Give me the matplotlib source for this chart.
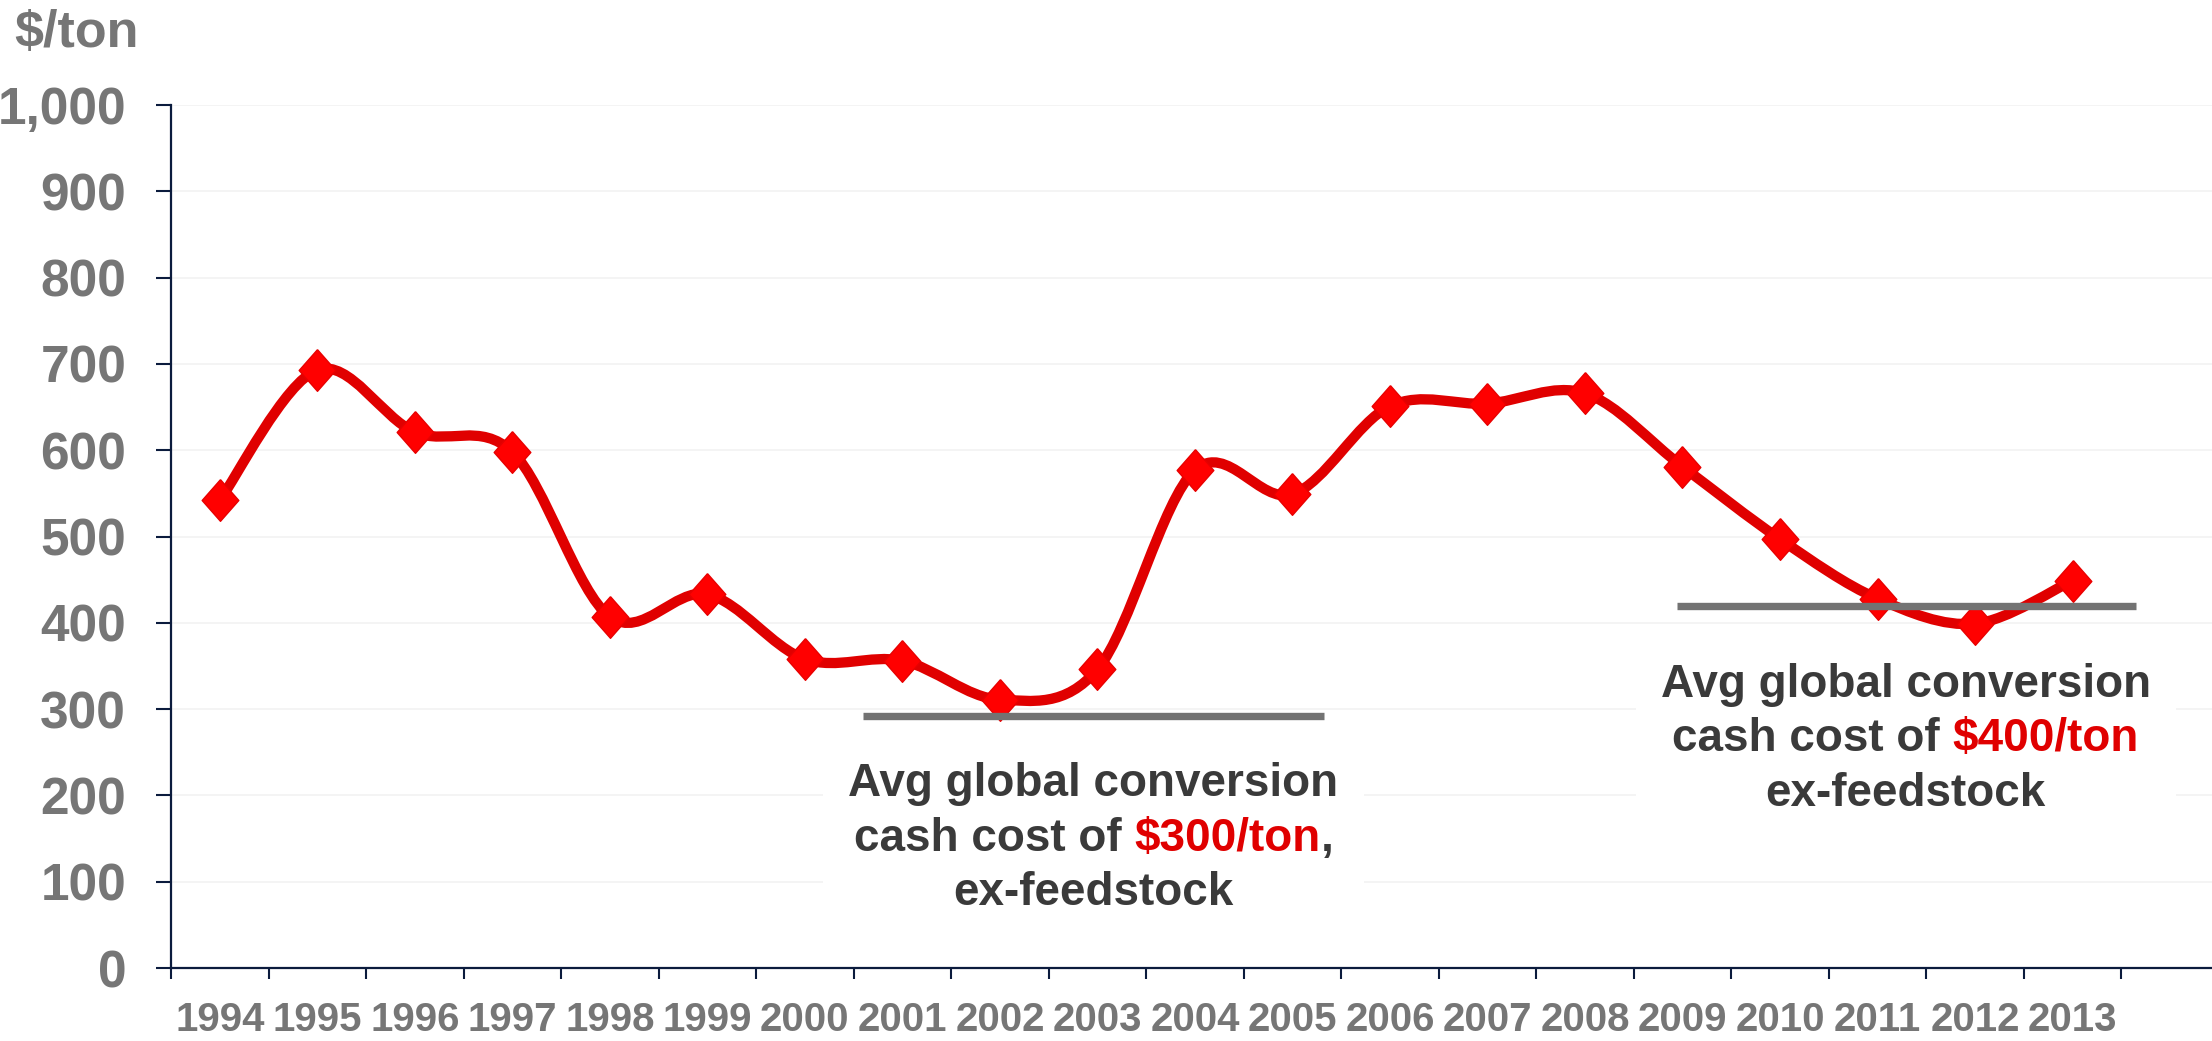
import numpy as np
import matplotlib
matplotlib.use("Agg")
import matplotlib.pyplot as plt
from matplotlib.path import Path
from matplotlib.patches import PathPatch
from matplotlib.ticker import FuncFormatter, FixedLocator
from matplotlib.offsetbox import TextArea, HPacker, VPacker, AnnotationBbox

# Data
years = ["1994", "1995", "1996", "1997", "1998", "1999", "2000", "2001", "2002", "2003",
         "2004", "2005", "2006", "2007", "2008", "2009", "2010", "2011", "2012", "2013"]
cost = [542, 693, 621, 598, 407, 433, 358, 356, 311, 346,
        577, 549, 651, 654, 666, 581, 497, 428, 399, 449]

# Average conversion cost reference lines: (x start, x end, level) in category units
avg_lines = [(6.6, 11.32, 292), (14.94, 19.65, 420)]
notes = [
    (8.96, 150, ["Avg global conversion", ("cash cost of", "$300/ton", ","), "ex-feedstock"]),
    (17.29, 265, ["Avg global conversion", ("cash cost of", "$400/ton", ""), "ex-feedstock"]),
]

RED_LINE = "#e00000"
RED_MARK = "#ff0000"
GREY_TXT = "#767676"
DARK_TXT = "#3a3a3a"
NAVY = "#0b1b3d"

plt.rcParams["font.family"] = ["Liberation Sans", "DejaVu Sans"]
plt.rcParams["font.weight"] = "bold"

fig = plt.figure(figsize=(22.12, 10.41), dpi=100)
ax = fig.add_axes([171 / 2212, 73 / 1041, 2041 / 2212, 863 / 1041])

x = np.arange(len(years))
y = np.array(cost, dtype=float)

# smoothed line (Catmull-Rom style bezier, like a spreadsheet smoothed line)
pts = np.column_stack([x, y])
ext = np.vstack([pts[0], pts, pts[-1]])
verts = [tuple(pts[0])]
codes = [Path.MOVETO]
for i in range(len(pts) - 1):
    p0, p1, p2, p3 = ext[i], ext[i + 1], ext[i + 2], ext[i + 3]
    c1 = p1 + (p2 - p0) / 6.0
    c2 = p2 - (p3 - p1) / 6.0
    verts += [tuple(c1), tuple(c2), tuple(p2)]
    codes += [Path.CURVE4] * 3
ax.add_patch(PathPatch(Path(verts, codes), facecolor="none", edgecolor=RED_LINE,
                       lw=7.4, capstyle="round", joinstyle="round", zorder=3))

diamond = [(0, 1), (0.88, 0), (0, -1), (-0.88, 0), (0, 1)]
ax.plot(x, y, linestyle="none", marker=diamond, markersize=30,
        markerfacecolor=RED_MARK, markeredgecolor="#e80000", markeredgewidth=1, zorder=4)

for x0, x1, lvl in avg_lines:
    ax.plot([x0, x1], [lvl, lvl], color="#737373", lw=5.3, solid_capstyle="butt", zorder=5)

# text notes with white background
for cx, cy, lines in notes:
    fp = dict(color=DARK_TXT, fontsize=33, fontweight="bold")
    rp = dict(color=RED_LINE, fontsize=33, fontweight="bold")
    first, mid, last = lines
    tail = HPacker(children=[TextArea(mid[1], textprops=rp)] +
                   ([TextArea(mid[2], textprops=fp)] if mid[2] else []),
                   sep=0, pad=0, align="baseline")
    row2 = HPacker(children=[TextArea(mid[0], textprops=fp), tail], sep=9.2, pad=0, align="baseline")
    box = VPacker(children=[TextArea(first, textprops=fp), row2, TextArea(last, textprops=fp)],
                  sep=7.5, pad=0, align="center")
    ab = AnnotationBbox(box, (cx, cy), xycoords="data", frameon=True, pad=0.55, fontsize=33,
                        box_alignment=(0.5, 0.5),
                        bboxprops=dict(facecolor="white", edgecolor="none"), zorder=2)
    ax.add_artist(ab)

ax.set_ylim(0, 1000)
ax.set_xlim(-0.5, 20.43)
ax.set_yticks(np.arange(0, 1001, 100))
ax.yaxis.set_major_formatter(FuncFormatter(lambda v, p: f"{int(v):,}"))
ax.grid(axis="y", color="#f2f2f2", lw=1.2, zorder=0)
ax.set_axisbelow(True)

ax.xaxis.set_major_locator(FixedLocator(np.arange(-0.5, len(years), 1.0)))
ax.xaxis.set_minor_locator(FixedLocator(x))
ax.set_xticklabels([], minor=False)
ax.set_xticklabels(years, minor=True)

ax.tick_params(axis="y", which="major", direction="out", length=10.8, width=1.5, color=NAVY,
               pad=21.5, labelsize=37, labelcolor=GREY_TXT)
ax.tick_params(axis="x", which="major", direction="out", length=8, width=1.5, color=NAVY)
ax.tick_params(axis="x", which="minor", length=0, pad=24, labelsize=29, labelcolor=GREY_TXT)
for lab in ax.get_xticklabels(minor=True) + ax.get_yticklabels():
    lab.set_fontweight("bold")

for side in ["top", "right"]:
    ax.spines[side].set_visible(False)
for side in ["left", "bottom"]:
    ax.spines[side].set_color(NAVY)
    ax.spines[side].set_linewidth(1.6)

fig.text(14 / 2212, 1 - 47 / 1041, "$/ton", fontsize=37.5, fontweight="bold",
         color=GREY_TXT, ha="left", va="baseline")

fig.savefig("out.png", dpi=100, facecolor="white")
